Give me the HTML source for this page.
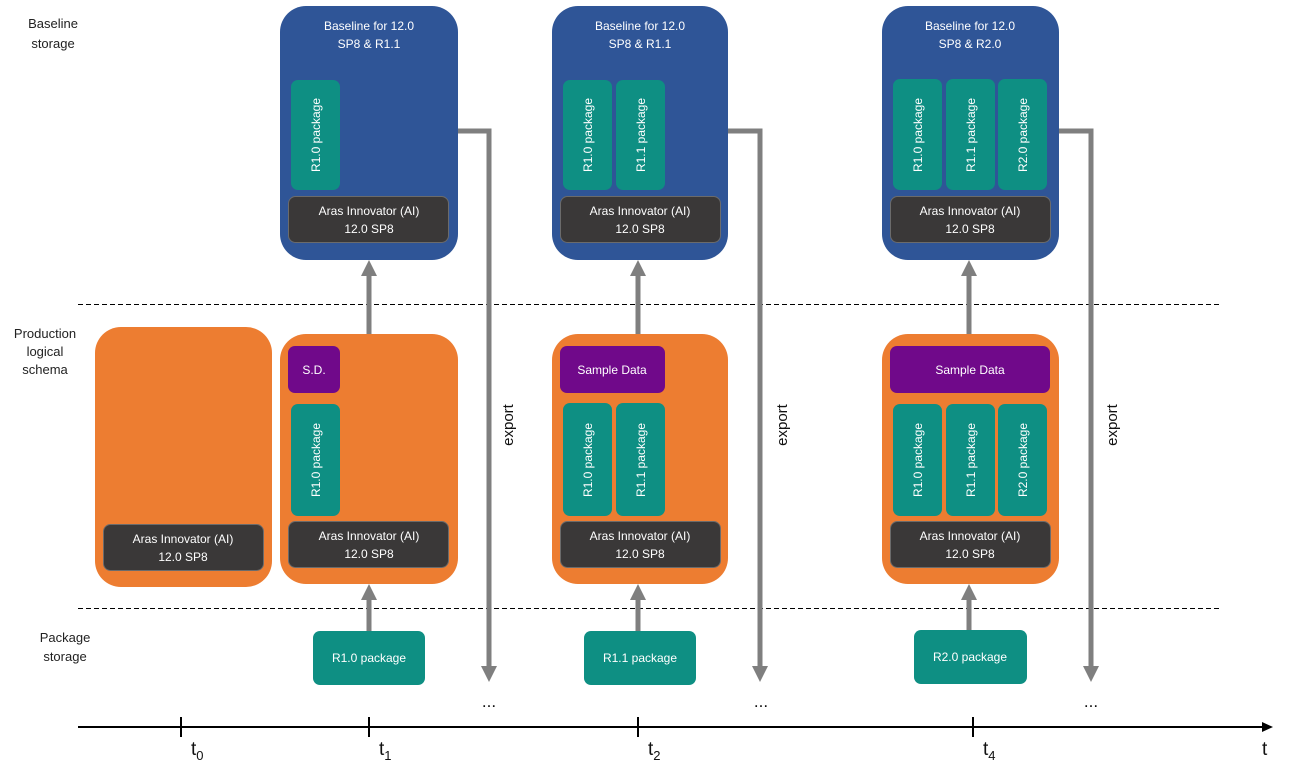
<!DOCTYPE html>
<html><head><meta charset="utf-8"><style>
html,body{margin:0;padding:0;background:#fff;}
svg{display:block;}
text{font-family:"Liberation Sans",sans-serif;}
</style></head><body>
<svg width="1291" height="768" viewBox="0 0 1291 768" xmlns="http://www.w3.org/2000/svg">
<!-- dashed lines -->
<line x1="78" y1="304.5" x2="1220" y2="304.5" stroke="#000" stroke-width="1" stroke-dasharray="5,3"/>
<line x1="78" y1="608.5" x2="1220" y2="608.5" stroke="#000" stroke-width="1" stroke-dasharray="5,3"/>

<!-- left labels -->
<g font-size="13" fill="#222" text-anchor="middle">
<text x="53" y="28">Baseline</text><text x="53" y="48">storage</text>
<text x="45" y="338">Production</text><text x="45" y="356">logical</text><text x="45" y="374">schema</text>
<text x="65" y="642">Package</text><text x="65" y="661">storage</text>
</g>

<!-- export arrows -->
<g stroke="#7f7f7f" stroke-width="5" fill="none">
<polyline points="458,131 489,131 489,668"/>
<polyline points="728,131 760,131 760,668"/>
<polyline points="1059,131 1091,131 1091,668"/>
<line x1="369" y1="334" x2="369" y2="274"/>
<line x1="638" y1="334" x2="638" y2="274"/>
<line x1="969" y1="334" x2="969" y2="274"/>
<line x1="369" y1="631" x2="369" y2="598"/>
<line x1="638" y1="631" x2="638" y2="598"/>
<line x1="969" y1="630" x2="969" y2="598"/>
</g>
<g fill="#7f7f7f">
<polygon points="481,666 497,666 489,682"/>
<polygon points="752,666 768,666 760,682"/>
<polygon points="1083,666 1099,666 1091,682"/>
<polygon points="361,276 377,276 369,260"/>
<polygon points="630,276 646,276 638,260"/>
<polygon points="961,276 977,276 969,260"/>
<polygon points="361,600 377,600 369,584"/>
<polygon points="630,600 646,600 638,584"/>
<polygon points="961,600 977,600 969,584"/>
</g>
<g font-size="15" fill="#111">
<text transform="translate(513,425) rotate(-90)" text-anchor="middle">export</text>
<text transform="translate(787,425) rotate(-90)" text-anchor="middle">export</text>
<text transform="translate(1117,425) rotate(-90)" text-anchor="middle">export</text>
</g>
<g font-size="17" fill="#111">
<text x="489" y="707" text-anchor="middle">...</text>
<text x="761" y="707" text-anchor="middle">...</text>
<text x="1091" y="707" text-anchor="middle">...</text>
</g>

<!-- blue boxes -->
<g fill="#2f5597">
<rect x="280" y="6" width="178" height="254" rx="26"/>
<rect x="552" y="6" width="176" height="254" rx="26"/>
<rect x="882" y="6" width="177" height="254" rx="26"/>
</g>
<g font-size="12" fill="#fff" text-anchor="middle">
<text x="369" y="30">Baseline for 12.0</text><text x="369" y="48">SP8 &amp; R1.1</text>
<text x="640" y="30">Baseline for 12.0</text><text x="640" y="48">SP8 &amp; R1.1</text>
<text x="970" y="30">Baseline for 12.0</text><text x="970" y="48">SP8 &amp; R2.0</text>
</g>

<!-- orange boxes -->
<g fill="#ed7d31">
<rect x="95" y="327" width="177" height="260" rx="26"/>
<rect x="280" y="334" width="178" height="250" rx="26"/>
<rect x="552" y="334" width="176" height="250" rx="26"/>
<rect x="882" y="334" width="177" height="250" rx="26"/>
</g>

<!-- purple -->
<g fill="#70098a">
<rect x="288" y="346" width="52" height="47" rx="7"/>
<rect x="560" y="346" width="105" height="47" rx="7"/>
<rect x="890" y="346" width="160" height="47" rx="7"/>
</g>
<g font-size="12" fill="#fff" text-anchor="middle">
<text x="314" y="374">S.D.</text>
<text x="612" y="374">Sample Data</text>
<text x="970" y="374">Sample Data</text>
</g>

<!-- teal packages -->
<g fill="#0e8f83">
<rect x="291" y="80" width="49" height="110" rx="7"/>
<rect x="563" y="80" width="49" height="110" rx="7"/>
<rect x="616" y="80" width="49" height="110" rx="7"/>
<rect x="893" y="79" width="49" height="111" rx="7"/>
<rect x="946" y="79" width="49" height="111" rx="7"/>
<rect x="998" y="79" width="49" height="111" rx="7"/>
<rect x="291" y="404" width="49" height="112" rx="7"/>
<rect x="563" y="403" width="49" height="113" rx="7"/>
<rect x="616" y="403" width="49" height="113" rx="7"/>
<rect x="893" y="404" width="49" height="112" rx="7"/>
<rect x="946" y="404" width="49" height="112" rx="7"/>
<rect x="998" y="404" width="49" height="112" rx="7"/>
<rect x="313" y="631" width="112" height="54" rx="7"/>
<rect x="584" y="631" width="112" height="54" rx="7"/>
<rect x="914" y="630" width="113" height="54" rx="7"/>
</g>
<g font-size="12" fill="#fff" text-anchor="middle">
<text transform="translate(320,135) rotate(-90)">R1.0 package</text>
<text transform="translate(592,135) rotate(-90)">R1.0 package</text>
<text transform="translate(645,135) rotate(-90)">R1.1 package</text>
<text transform="translate(922,135) rotate(-90)">R1.0 package</text>
<text transform="translate(975,135) rotate(-90)">R1.1 package</text>
<text transform="translate(1027,135) rotate(-90)">R2.0 package</text>
<text transform="translate(320,460) rotate(-90)">R1.0 package</text>
<text transform="translate(592,460) rotate(-90)">R1.0 package</text>
<text transform="translate(645,460) rotate(-90)">R1.1 package</text>
<text transform="translate(922,460) rotate(-90)">R1.0 package</text>
<text transform="translate(975,460) rotate(-90)">R1.1 package</text>
<text transform="translate(1027,460) rotate(-90)">R2.0 package</text>
<text x="369" y="662">R1.0 package</text>
<text x="640" y="662">R1.1 package</text>
<text x="970" y="661">R2.0 package</text>
</g>

<!-- AI boxes -->
<g fill="#3a3838" stroke="#6b6b6b" stroke-width="1">
<rect x="288.5" y="196.5" width="160" height="46" rx="7"/>
<rect x="560.5" y="196.5" width="160" height="46" rx="7"/>
<rect x="890.5" y="196.5" width="160" height="46" rx="7"/>
<rect x="103.5" y="524.5" width="160" height="46" rx="7"/>
<rect x="288.5" y="521.5" width="160" height="46" rx="7"/>
<rect x="560.5" y="521.5" width="160" height="46" rx="7"/>
<rect x="890.5" y="521.5" width="160" height="46" rx="7"/>
</g>
<g font-size="12" fill="#fff" text-anchor="middle">
<text x="369" y="215">Aras Innovator (AI)</text><text x="369" y="233">12.0 SP8</text>
<text x="640" y="215">Aras Innovator (AI)</text><text x="640" y="233">12.0 SP8</text>
<text x="970" y="215">Aras Innovator (AI)</text><text x="970" y="233">12.0 SP8</text>
<text x="183" y="543">Aras Innovator (AI)</text><text x="183" y="561">12.0 SP8</text>
<text x="369" y="540">Aras Innovator (AI)</text><text x="369" y="558">12.0 SP8</text>
<text x="640" y="540">Aras Innovator (AI)</text><text x="640" y="558">12.0 SP8</text>
<text x="970" y="540">Aras Innovator (AI)</text><text x="970" y="558">12.0 SP8</text>
</g>

<!-- time axis -->
<line x1="78" y1="727" x2="1264" y2="727" stroke="#000" stroke-width="2"/>
<polygon points="1262,722 1273,727 1262,732" fill="#000"/>
<g stroke="#000" stroke-width="2">
<line x1="181" y1="717" x2="181" y2="737"/>
<line x1="369" y1="717" x2="369" y2="737"/>
<line x1="638" y1="717" x2="638" y2="737"/>
<line x1="973" y1="717" x2="973" y2="737"/>
</g>
<g font-size="19" fill="#111">
<text x="191" y="755">t<tspan font-size="13" dy="5">0</tspan></text>
<text x="379" y="755">t<tspan font-size="13" dy="5">1</tspan></text>
<text x="648" y="755">t<tspan font-size="13" dy="5">2</tspan></text>
<text x="983" y="755">t<tspan font-size="13" dy="5">4</tspan></text>
<text x="1262" y="755">t</text>
</g>
</svg>
</body></html>
